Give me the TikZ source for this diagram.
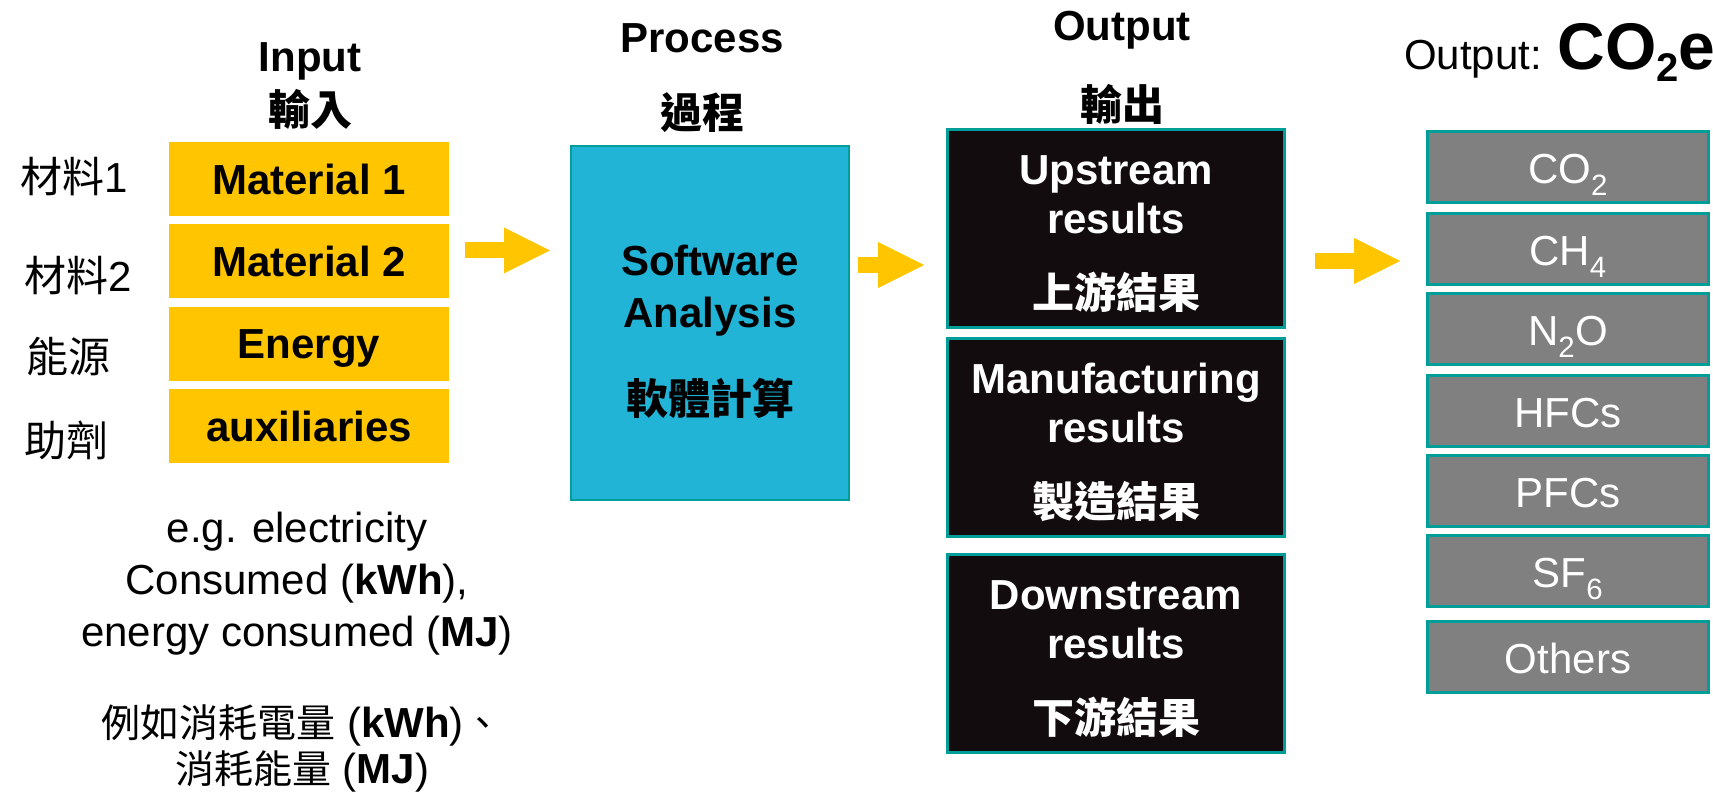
\documentclass[tikz,border=0pt]{standalone}
\usepackage{fontspec}
\setmainfont{Liberation Sans}
\newfontfamily\cjk{Noto Sans CJK TC}
\usetikzlibrary{arrows.meta,positioning}
\definecolor{gold}{RGB}{255,198,0}
\definecolor{sky}{RGB}{33,180,214}
\definecolor{rim}{RGB}{0,158,152}
\definecolor{coal}{RGB}{18,12,14}
\definecolor{slate}{RGB}{128,128,128}
\newcommand\txtsz{\fontsize{42}{49}\selectfont}
\newcommand\topgap[1]{\rule{0pt}{#1}}
\tikzset{
  inbox/.style={fill=gold,minimum width=280pt,minimum height=74pt,inner sep=0pt,
    text height=30pt,text depth=0pt,font=\txtsz\bfseries},
  procbox/.style={fill=sky,draw=rim,line width=2pt,minimum width=278pt,minimum height=354pt,
    align=center,font=\fontsize{42}{52}\selectfont\bfseries},
  outbox/.style={fill=coal,draw=rim,line width=3pt,text=white,minimum width=337pt,
    minimum height=198pt,align=center,font=\txtsz\bfseries},
  gasbox/.style={fill=slate,draw=rim,line width=3pt,text=white,minimum width=281pt,
    minimum height=71pt,inner sep=0pt,text height=33pt,text depth=0pt,font=\txtsz},
  head/.style={font=\txtsz\bfseries},
  tag/.style={font=\txtsz,anchor=west,inner sep=0pt},
  flow/.style={gold,line width=16pt,-{Triangle[length=46pt,width=46pt,line width=0pt]}},
}
\begin{document}
\begin{tikzpicture}[x=1pt,y=-1pt]
  \useasboundingbox (0,0) rectangle (1713,792);
  % input
  \node[head] (inhd) at (310,61) {Input};
  \node[head] (inhdzh) at (310,109) {\cjk 輸入};
  \node[inbox] (m1) at (309,179) {Material 1};
  \node[inbox,below=8pt of m1] (m2) {Material 2};
  \node[inbox,below=8pt of m2] (en) {Energy};
  \node[inbox,below=8pt of en] (aux) {auxiliaries};
  \node[tag] (t1) at (20,177) {{\cjk 材料}1};
  \node[tag] (t2) at (24,276) {{\cjk 材料}2};
  \node[tag] (t3) at (26,357) {\cjk 能源};
  \node[tag] (t4) at (24,440) {\cjk 助劑};
  \node[align=center,font=\fontsize{42}{52}\selectfont] (note) at (297,584)
    {e.g. electricity\\Consumed (\textbf{kWh}),\\energy consumed (\textbf{MJ})};
  \node[align=center,font=\fontsize{42}{46}\selectfont] (notezh) at (302,748)
    {{\fontsize{39}{46}\cjk 例如消耗電量} (\textbf{kWh}){\fontsize{39}{46}\cjk 、}\\
     {\fontsize{39}{46}\cjk 消耗能量} (\textbf{MJ})};
  % process
  \node[head] (prhd) at (702,38) {Process};
  \node[head] (prhdzh) at (702,113) {\cjk 過程};
  \node[procbox] (proc) at (710,323) {\topgap{49pt}Software\\Analysis\\[35pt]{\cjk 軟體計算}};
  % output
  \node[head] (ouhd) at (1122,30) {Output};
  \node[head] (ouhdzh) at (1122,104) {\cjk 輸出};
  \node[outbox] (up) at (1116,228.5) {\topgap{40pt}Upstream\\results\\[26pt]{\cjk 上游結果}};
  \node[outbox] (mf) at (1116,437.5) {\topgap{40pt}Manufacturing\\results\\[26pt]{\cjk 製造結果}};
  \node[outbox] (dn) at (1116,653) {\topgap{40pt}Downstream\\results\\[26pt]{\cjk 下游結果}};
  % gases
  \node[anchor=base west,inner sep=0pt,font=\txtsz] (ttl) at (1404,70)
    {Output: {\fontsize{66}{66}\selectfont\bfseries CO\raisebox{-12pt}{\fontsize{40}{40}\selectfont 2}e}};
  \foreach \n/\t/\y in {co/CO\textsubscript{2}/167,ch/CH\textsubscript{4}/249,
      no/N\textsubscript{2}O/329,hf/HFCs/411,pf/PFCs/491,sf/SF\textsubscript{6}/571,ot/Others/657}
    \node[gasbox] (\n) at (1568,\y) {\t};
  % arrows
  \coordinate (a1) at ([yshift=11pt]m2.east);
  \coordinate (a2) at ([yshift=58pt]proc.east);
  \coordinate (a3) at ([yshift=-12pt]ch.west);
  \draw[flow,shorten <=16pt,shorten >=20pt] (a1) -- (a1 -| proc.west);
  \draw[flow,shorten <=8pt,shorten >=22pt] (a2) -- (a2 -| up.west);
  \draw[flow,shorten <=29pt,shorten >=26pt] (up.east |- a3) -- (a3);
\end{tikzpicture}
\end{document}
